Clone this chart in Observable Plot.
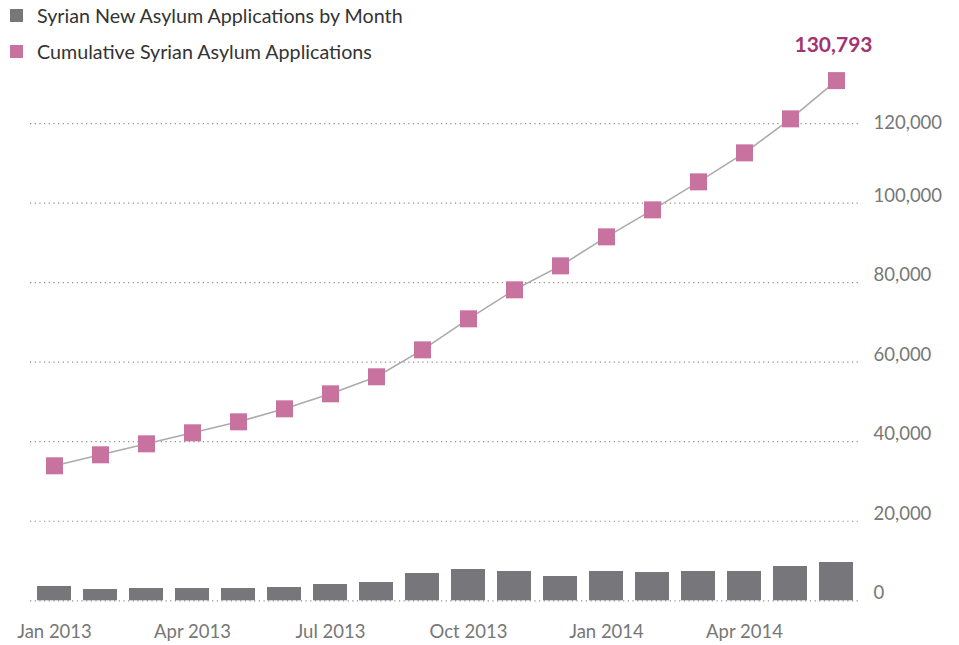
<!DOCTYPE html>
<html>
<head>
<meta charset="utf-8">
<script src="https://cdn.jsdelivr.net/npm/d3@7"></script>
<script src="https://cdn.jsdelivr.net/npm/@observablehq/plot@0.6"></script>
<style>
  html, body { margin: 0; padding: 0; background: #fff; }
  #wrap { position: relative; width: 959px; height: 645px; font-family: Lato, "Open Sans", sans-serif; }
  .leg { position: absolute; left: 0; display: flex; align-items: center; font-size: 19.7px; color: #333; }
  .sw { width: 13px; height: 13px; margin-left: 10px; margin-right: 14px; }
  #chart { position: absolute; left: 0; top: 0; }
</style>
</head>
<body>
<div id="wrap">
  <div id="chart"></div>
  <div class="leg" style="top:4px;"><div class="sw" style="background:#77777b"></div><span>Syrian New Asylum Applications by Month</span></div>
  <div class="leg" style="top:40px;"><div class="sw" style="background:#c8739f"></div><span>Cumulative Syrian Asylum Applications</span></div>
</div>
<script>
const months = ["Jan 2013","Feb 2013","Mar 2013","Apr 2013","May 2013","Jun 2013","Jul 2013","Aug 2013","Sep 2013","Oct 2013","Nov 2013","Dec 2013","Jan 2014","Feb 2014","Mar 2014","Apr 2014","May 2014","Jun 2014"];
const monthly = [3600, 2840, 3090, 3090, 3090, 3340, 4100, 4600, 6860, 7870, 7370, 6110, 7370, 7110, 7370, 7370, 8620, 9630];
const cumulative = [33940, 36710, 39470, 42240, 45000, 48270, 52040, 56320, 63100, 70900, 78190, 84220, 91510, 98300, 105340, 112630, 121180, 130793];
const yTicks = [0, 20000, 40000, 60000, 80000, 100000, 120000];
const xTicks = ["Jan 2013","Apr 2013","Jul 2013","Oct 2013","Jan 2014","Apr 2014"];

const data = months.map((m, i) => ({month: m, monthly: monthly[i], cumulative: cumulative[i]}));
const fmt = d3.format(",");

const chart = Plot.plot({
  width: 959,
  height: 645,
  marginTop: 43.5,
  marginBottom: 44.7,
  marginLeft: 30,
  marginRight: 99,
  style: {fontFamily: "Lato, 'Open Sans', sans-serif", background: "transparent"},
  x: {type: "band", domain: months, paddingInner: 0.263, paddingOuter: 0.13},
  y: {domain: [0, 140000]},
  marks: [
    Plot.ruleY(yTicks, {stroke: "#8c8c8c", strokeDasharray: "1.2,3.47", strokeWidth: 1.2}),
    Plot.barY(data, {x: "month", y: "monthly", fill: "#77777b"}),
    Plot.line(data, {x: "month", y: "cumulative", stroke: "#ababab", strokeWidth: 1.6}),
    Plot.dot(data, {x: "month", y: "cumulative", symbol: "square", r: 9.6, fill: "#c8739f", stroke: "none"}),
    Plot.text(data.slice(-1), {x: "month", y: "cumulative", text: d => fmt(d.cumulative), dy: -35, dx: -3, fontWeight: "bold", fontSize: 21, fill: "#a3346f"}),
    Plot.axisX({ticks: xTicks, tickSize: 0, tickPadding: 24, fontSize: 18.5, color: "#777", label: null}),
    Plot.axisY(yTicks.filter(v => v < 120000), {anchor: "right", tickSize: 0, tickPadding: 13, tickFormat: fmt, fontSize: 18.5, color: "#777", dy: -7.5, label: null}),
    Plot.axisY([120000], {anchor: "right", tickSize: 0, tickPadding: 13, tickFormat: fmt, fontSize: 18.5, color: "#777", label: null})
  ]
});
document.getElementById("chart").appendChild(chart);
</script>
</body>
</html>
